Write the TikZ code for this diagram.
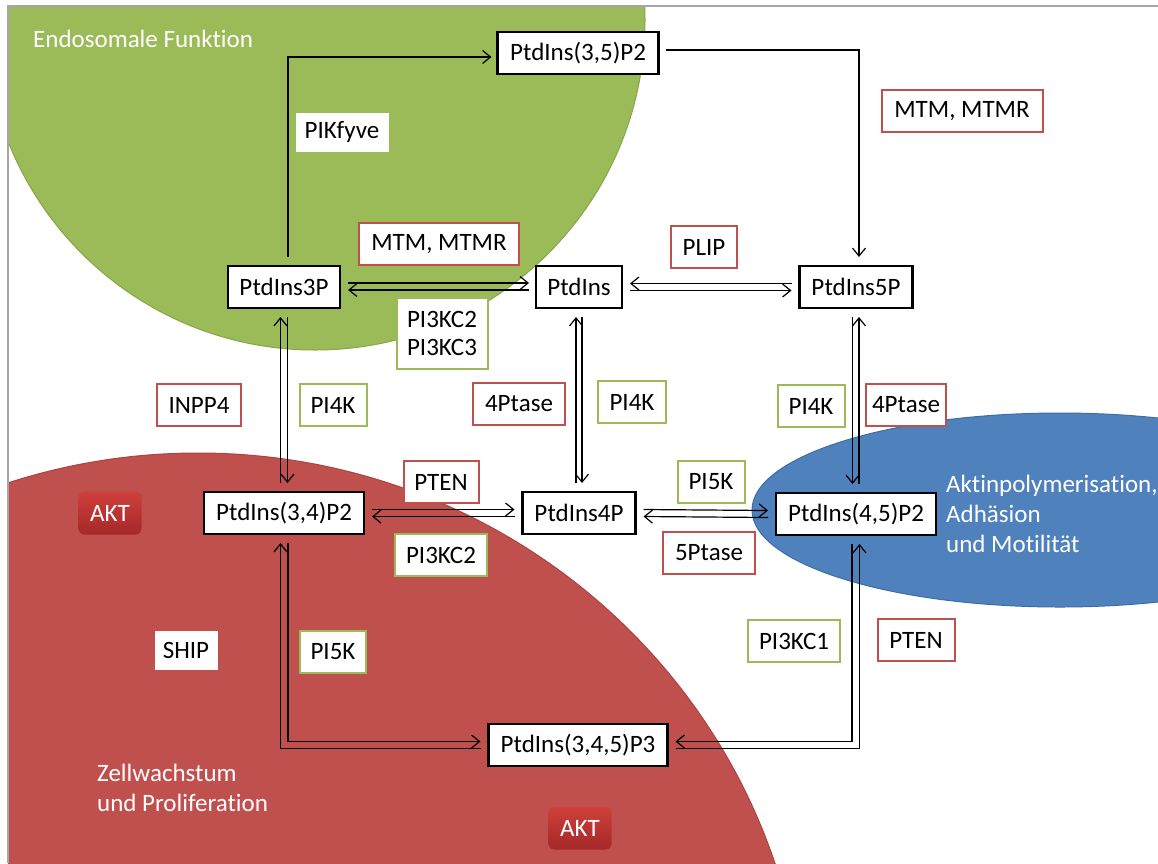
\documentclass[tikz,border=0pt]{standalone}
\usepackage{fontspec}
\setmainfont{Carlito}[Ligatures={NoCommon,NoContextual}]
\usetikzlibrary{arrows.meta,calc}
\definecolor{gfill}{HTML}{9BBB59}
\definecolor{gline}{HTML}{86A64B}
\definecolor{rfill}{HTML}{C0504D}
\definecolor{rline}{HTML}{A94542}
\definecolor{bfill}{HTML}{4F81BD}
\definecolor{bline}{HTML}{3E6DA5}
\definecolor{redbox}{HTML}{C0504D}
\definecolor{greenbox}{HTML}{9BBB59}
\definecolor{akttop}{HTML}{D0403C}
\definecolor{aktbot}{HTML}{A42828}
\definecolor{framegray}{HTML}{A6A6A6}
\begin{document}
\begin{tikzpicture}[x=1pt,y=-1pt,font=\fontsize{25}{28}\selectfont,
  mol/.style={draw=black,line width=2.8pt,fill=white,minimum height=42pt,inner xsep=0pt,inner ysep=0pt,outer sep=0pt},
  enzr/.style={draw=redbox,line width=2pt,fill=white,minimum height=42pt,inner xsep=0pt,inner ysep=0pt},
  enzg/.style={draw=greenbox,line width=2pt,fill=white,minimum height=42pt,inner xsep=0pt,inner ysep=0pt},
  plain/.style={fill=white,minimum height=39pt,inner xsep=0pt,inner ysep=0pt},
  akt/.style={rounded corners=6pt,top color=akttop,bottom color=aktbot,text=white,minimum width=63pt,minimum height=43pt,inner sep=0pt},
  region/.style={text=white,anchor=base west,inner sep=0pt},
  arr/.style={line width=1.2pt,-{Straight Barb[length=8pt,width=13pt,line width=1.2pt]}},
  ln/.style={line width=1.2pt}]
\useasboundingbox (0,0) rectangle (1158,863);
\fill[white] (0,0) rectangle (1158,863);
% background regions
\begin{scope}
  \clip (8,6) rectangle (1158,863);
  \fill[gfill,draw=gline,line width=1pt] (315,20) circle [x radius=330pt,y radius=330pt];
  \fill[rfill,draw=rline,line width=1pt] (198,1053) circle [x radius=608pt,y radius=600pt];
  \fill[bfill,draw=bline,line width=1pt] (1060,510) circle [x radius=308pt,y radius=97pt];
\end{scope}
\draw[framegray,line width=1.2pt] (8,863) -- (8,6) -- (1158,6);
% region texts
\node[region] (tendo) at (33,47) {Endosomale Funktion};
\node[region] (tzell1) at (97,781) {Zellwachstum};
\node[region] (tzell2) at (97,811) {und Proliferation};
\node[region] (takt1) at (946,492) {Aktinpolymerisation,};
\node[region] (takt2) at (946,522) {Adhäsion};
\node[region] (takt3) at (946,552) {und Motilität};
% molecules
\node[mol,minimum width=161pt] (p35) at (578,53) {PtdIns(3,5)P2};
\node[mol,minimum width=112pt] (p3) at (284,287) {PtdIns3P};
\node[mol,minimum width=86pt] (pi) at (579,287) {PtdIns};
\node[mol,minimum width=113pt] (p5) at (856,287) {PtdIns5P};
\node[mol,minimum width=160pt] (p34) at (284,513) {PtdIns(3,4)P2};
\node[mol,minimum width=113pt] (p4) at (579,513) {PtdIns4P};
\node[mol,minimum width=160pt] (p45) at (856,514) {PtdIns(4,5)P2};
\node[mol,minimum width=179pt] (p345) at (578,745) {PtdIns(3,4,5)P3};
% enzymes
\node[plain,minimum width=93pt] (pikfyve) at (342,132) {PIKfyve};
\node[enzr,minimum width=161pt] (mtm1) at (962,111) {MTM, MTMR};
\node[enzr,minimum width=160pt] (mtm2) at (439,244) {MTM, MTMR};
\node[enzr,minimum width=66pt] (plip) at (704,247) {PLIP};
\node[enzg,minimum width=91pt,minimum height=71pt,align=center] (pi3kc23) at (442,333) {PI3KC2\\PI3KC3};
\node[enzr,minimum width=84pt] (inpp4) at (199,405) {INPP4};
\node[enzg,minimum width=67pt] (pi4k1) at (333,405) {PI4K};
\node[enzr,minimum width=92pt] (ptase4a) at (519,404) {4Ptase};
\node[enzg,minimum width=68pt] (pi4k2) at (632,402) {PI4K};
\node[enzg,minimum width=67pt] (pi4k3) at (811,406) {PI4K};
\node[enzr,minimum width=80pt] (ptase4b) at (906,405) {4Ptase};
\node[enzr,minimum width=75pt] (pten1) at (441,482) {PTEN};
\node[enzg,minimum width=92pt] (pi3kc2) at (441,555) {PI3KC2};
\node[enzg,minimum width=67pt] (pi5k1) at (711,482) {PI5K};
\node[enzr,minimum width=92pt] (ptase5) at (709,553) {5Ptase};
\node[enzg,minimum width=92pt] (pi3kc1) at (794,641) {PI3KC1};
\node[enzr,minimum width=77pt] (pten2) at (916,640) {PTEN};
\node[plain,minimum width=63pt] (ship) at (186,650) {SHIP};
\node[enzg,minimum width=66pt] (pi5k2) at (333,652) {PI5K};
\node[akt] (akt1) at (110,513) {AKT};
\node[akt] (akt2) at (580,828) {AKT};
% connectors
\draw[arr] ([xshift=4pt,yshift=9pt]p3.north) |- ([xshift=-6pt,yshift=-4pt]p35.west);
\draw[arr] ([xshift=7pt,yshift=3pt]p35.east) -| ([xshift=3pt,yshift=9pt]p5.north);
% PtdIns3P <-> PtdIns
\draw[arr] ([xshift=8pt,yshift=4pt]p3.east) -- ([xshift=-7pt,yshift=4pt]pi.west);
\draw[arr] ([xshift=-7pt,yshift=-3pt]pi.west) -- ([xshift=8pt,yshift=-3pt]p3.east);
% PtdIns <-> PtdIns5P
\draw[arr] ([xshift=-8pt,yshift=3.5pt]p5.west) -- ([xshift=8pt,yshift=3.5pt]pi.east);
\draw[arr] ([xshift=8pt,yshift=-3.5pt]pi.east) -- ([xshift=-8pt,yshift=-3.5pt]p5.west);
% PtdIns3P <-> PtdIns(3,4)P2
\draw[arr] ([xshift=-3.5pt,yshift=9pt]p34.north) -- ([xshift=-3.5pt,yshift=-9pt]p3.south);
\draw[arr] ([xshift=3.5pt,yshift=-9pt]p3.south) -- ([xshift=3.5pt,yshift=9pt]p34.north);
% PtdIns <-> PtdIns4P
\draw[arr] ([xshift=-3pt,yshift=9pt]p4.north) -- ([xshift=-3pt,yshift=-9pt]pi.south);
\draw[arr] ([xshift=3pt,yshift=-9pt]pi.south) -- ([xshift=3pt,yshift=9pt]p4.north);
% PtdIns5P <-> PtdIns(4,5)P2
\draw[arr] ([xshift=-3.5pt,yshift=-9pt]p5.south) -- ([xshift=-3.5pt,yshift=9pt]p45.north);
\draw[arr] ([xshift=3pt,yshift=9pt]p45.north) -- ([xshift=3pt,yshift=-9pt]p5.south);
% PtdIns(3,4)P2 <-> PtdIns4P
\draw[arr] ([xshift=8pt,yshift=3.5pt]p34.east) -- ([xshift=-8pt,yshift=3.5pt]p4.west);
\draw[arr] ([xshift=-8pt,yshift=-3.5pt]p4.west) -- ([xshift=8pt,yshift=-3.5pt]p34.east);
% PtdIns4P <-> PtdIns(4,5)P2
\draw[arr] ([xshift=8pt,yshift=3.5pt]p4.east) -- ([xshift=-8pt,yshift=3.5pt]p45.west);
\draw[arr] ([xshift=-8pt,yshift=-3.5pt]p45.west) -- ([xshift=8pt,yshift=-3.5pt]p4.east);
% PtdIns(3,4)P2 <-> PtdIns(3,4,5)P3
\draw[arr] ([xshift=4pt,yshift=-9pt]p34.south) |- ([xshift=-8pt,yshift=3.5pt]p345.west);
\draw[arr] ([xshift=-8pt,yshift=-3.5pt]p345.west) -| ([xshift=-3.5pt,yshift=-9pt]p34.south);
% PtdIns(4,5)P2 <-> PtdIns(3,4,5)P3
\draw[arr] ([xshift=-4pt,yshift=-9pt]p45.south) |- ([xshift=8pt,yshift=3.5pt]p345.east);
\draw[arr] ([xshift=8pt,yshift=-3.5pt]p345.east) -| ([xshift=3.5pt,yshift=-9pt]p45.south);
\end{tikzpicture}
\end{document}
